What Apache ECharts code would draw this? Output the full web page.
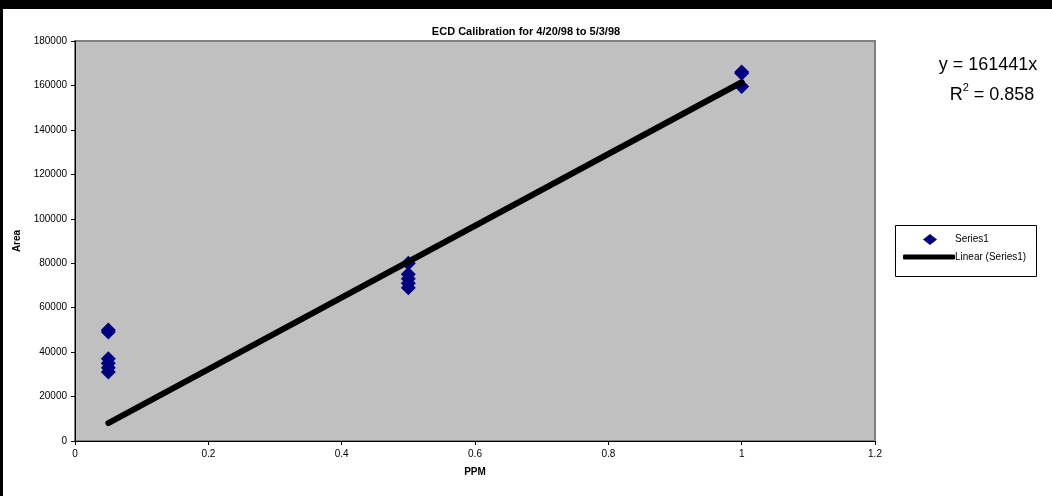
<!DOCTYPE html>
<html>
<head>
<meta charset="utf-8">
<script src="https://cdn.jsdelivr.net/npm/echarts@6/dist/echarts.min.js"></script>
<style>
html,body{margin:0;padding:0;background:#fff;}
#chart{width:1052px;height:496px;}
</style>
</head>
<body>
<div id="chart"></div>
<script>
// ---- data ----
const ppm = [0.05, 0.05, 0.05, 0.05, 0.05, 0.05, 0.5, 0.5, 0.5, 0.5, 0.5, 1, 1, 1];
const area = [49000, 50000, 37000, 35000, 33000, 31000, 80000, 75000, 73000, 71000, 69000, 166000, 165500, 159500];
const trendSlope = 161441;
const trendLabel = 'y = 161441x';
const r2Value = '0.858';
const xTicks = [0, 0.2, 0.4, 0.6, 0.8, 1, 1.2];
const yTicks = [0, 20000, 40000, 60000, 80000, 100000, 120000, 140000, 160000, 180000];

const points = ppm.map((x, i) => [x, area[i]]);
const xMin = Math.min(...ppm), xMax = Math.max(...ppm);
const trend = [[xMin, trendSlope * xMin], [xMax, trendSlope * xMax]];

const FONT = '"Liberation Sans", Arial, sans-serif';
const chart = echarts.init(document.getElementById('chart'), null, {renderer: 'canvas'});
chart.setOption({
  backgroundColor: '#ffffff',
  animation: false,
  title: {
    text: 'ECD Calibration for 4/20/98 to 5/3/98',
    left: 'center', top: 21,
    textStyle: {fontFamily: FONT, fontSize: 11, fontWeight: 'bold', color: '#000'}
  },
  grid: {
    left: 75, right: 177, top: 41, bottom: 55,
    show: true, backgroundColor: '#c0c0c0', borderColor: '#808080', borderWidth: 2
  },
  xAxis: {
    type: 'value', min: 0, max: 1.2, interval: 0.2,
    name: 'PPM', nameLocation: 'middle', nameGap: 26,
    nameTextStyle: {fontFamily: FONT, fontSize: 10, fontWeight: 'bold', color: '#000'},
    axisLine: {show: true, onZero: false, lineStyle: {color: '#000', width: 1}},
    axisTick: {show: true, length: 4, lineStyle: {color: '#000'}},
    axisLabel: {fontFamily: FONT, fontSize: 10, color: '#000', margin: 8,
      formatter: v => String(xTicks.find(t => Math.abs(t - v) < 1e-9) ?? v)},
    splitLine: {show: false}
  },
  yAxis: {
    type: 'value', min: 0, max: 180000, interval: 20000,
    name: 'Area', nameLocation: 'middle', nameGap: 52, nameRotate: 90,
    nameTextStyle: {fontFamily: FONT, fontSize: 10, fontWeight: 'bold', color: '#000'},
    axisLine: {show: true, lineStyle: {color: '#000', width: 1}},
    axisTick: {show: true, length: 4, lineStyle: {color: '#000'}},
    axisLabel: {fontFamily: FONT, fontSize: 10, color: '#000', margin: 8,
      formatter: v => String(yTicks.find(t => t === v) ?? v)},
    splitLine: {show: false}
  },
  legend: [
    {
      data: [{name: 'Series1', icon: 'diamond'}],
      left: 918, top: 229, orient: 'vertical',
      itemWidth: 14, itemHeight: 11, itemGap: 0,
      textStyle: {fontFamily: FONT, fontSize: 10, color: '#000', padding: [0, 0, 0, 13]},
      selectedMode: false
    },
    {
      data: [{name: 'Linear (Series1)', icon: 'roundRect'}],
      left: 898, top: 247, orient: 'vertical',
      itemWidth: 52, itemHeight: 5, itemGap: 0,
      textStyle: {fontFamily: FONT, fontSize: 10, color: '#000', padding: [0, 0, 0, -5]},
      selectedMode: false
    }
  ],
  graphic: [
    {type: 'rect', shape: {x: 0, y: 0, width: 1052, height: 9}, style: {fill: '#000'}, z: 100},
    {type: 'rect', shape: {x: 0, y: 0, width: 3, height: 496}, style: {fill: '#000'}, z: 100},
    {type: 'rect', shape: {x: 895.5, y: 225.5, width: 141, height: 51},
      style: {fill: 'none', stroke: '#000', lineWidth: 1}, z: 0},
    {type: 'text', style: {text: trendLabel, x: 988, y: 56, textAlign: 'center',
      font: '18px "Liberation Sans", Arial, sans-serif', fill: '#000'}},
    {type: 'text', style: {
      x: 992, y: 82, textAlign: 'center',
      text: '{b|R}{s|2}{b| = ' + r2Value + '}',
      rich: {
        b: {fontFamily: FONT, fontSize: 18, color: '#000', verticalAlign: 'bottom', lineHeight: 22},
        s: {fontFamily: FONT, fontSize: 11, color: '#000', verticalAlign: 'top', lineHeight: 22, padding: [0, 0, 10, 0]}
      }
    }}
  ],
  series: [
    {
      name: 'Series1', type: 'scatter', data: points,
      symbol: 'diamond', symbolSize: 15,
      itemStyle: {color: '#000080', opacity: 1}, z: 3
    },
    {
      name: 'Linear (Series1)', type: 'line', data: trend,
      showSymbol: false, symbol: 'none',
      lineStyle: {color: '#000', width: 6, cap: 'round'},
      itemStyle: {color: '#000'}, z: 4
    }
  ]
});
</script>
</body>
</html>
